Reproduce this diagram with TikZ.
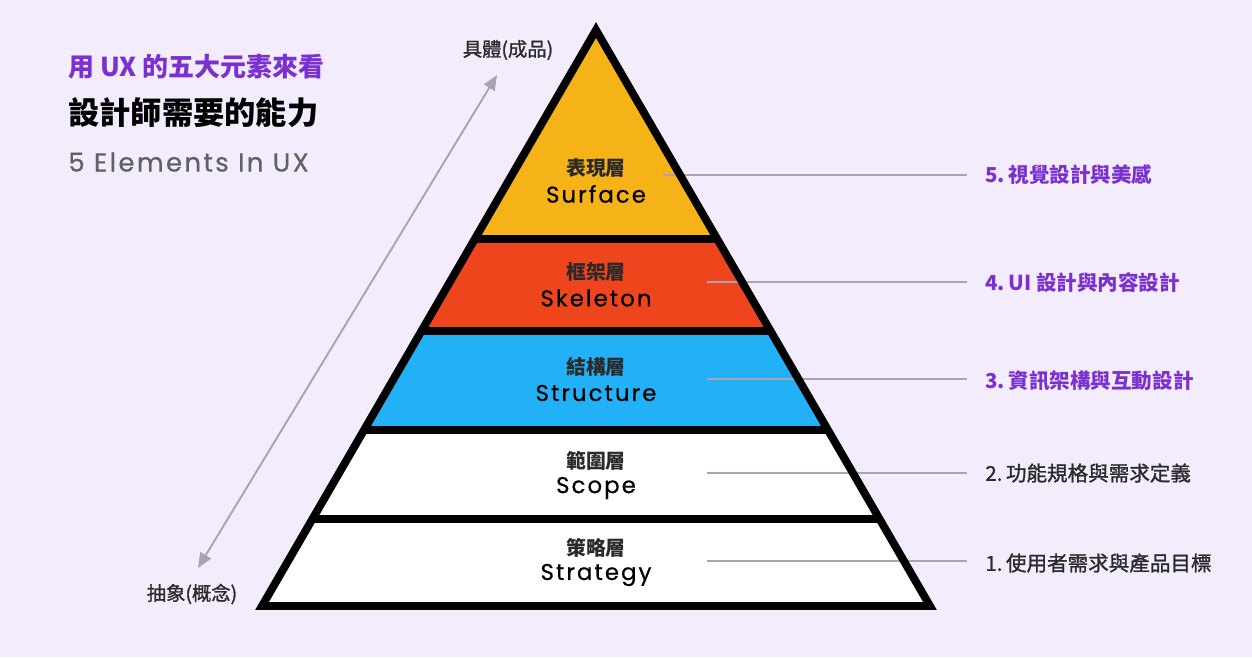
\documentclass[tikz,border=0pt]{standalone}
\usepackage{fontspec}
\setmainfont{Noto Sans CJK TC}
\newfontfamily\lat{Poppins}[LetterSpace=9, FakeBold=0.5]
\newfontfamily\cjkmid{Noto Sans CJK TC}[FakeBold=1.2]
\usepackage{tikz}
\usetikzlibrary{arrows.meta}

\definecolor{uxbg}{HTML}{F3ECFD}
\definecolor{uxpurple}{HTML}{7A31D0}
\definecolor{uxgold}{HTML}{F6B317}
\definecolor{uxred}{HTML}{EE451D}
\definecolor{uxblue}{HTML}{22B1F6}
\definecolor{uxgray}{HTML}{A9A4B0}
\definecolor{uxtext}{HTML}{2A2A2A}

\begin{document}
\begin{tikzpicture}[
  x=0.02cm, y=-0.02cm, >={Triangle[length=8.5pt,width=7pt]},
  tierzh/.style={font=\bfseries\fontsize{11.3}{13}\selectfont, text=uxtext, inner sep=0pt},
  tieren/.style={font=\lat\fontsize{13}{15}\selectfont, text=black, inner sep=0pt},
  goal/.style={anchor=west, inner sep=0pt, font=\cjkmid\fontsize{11.7}{14}\selectfont, text=uxtext},
  goalhi/.style={goal, font=\bfseries\fontsize{11.7}{14}\selectfont, text=uxpurple},
  pole/.style={font=\cjkmid\fontsize{11}{13}\selectfont, text=uxtext, inner sep=0pt},
  band/.style={line width=4.5pt, black},
  lead/.style={draw=uxgray, line width=1.1pt},
  arr/.style={<->, draw=uxgray, fill=uxgray, line width=1.1pt},
]
\fill[uxbg] (0,0) rectangle (1252,657);
\useasboundingbox (0,0) rectangle (1252,657);

% heading
\node[anchor=west, inner sep=0pt, text=uxpurple, font=\bfseries\fontsize{14.8}{17}\selectfont] (head) at (68,67) {用 UX 的五大元素來看};
\node[anchor=west, inner sep=0pt, text=black, font=\bfseries\fontsize{17.8}{21}\selectfont] (title) at (68,113) {設計師需要的能力};
\node[anchor=west, inner sep=0pt, text=black!62, font=\lat\fontsize{14.8}{17}\selectfont] (sub) at (68,162) {5 Elements In UX};

% pyramid
\coordinate (apex) at (596,30);
\coordinate (bl) at (262,606);
\coordinate (br) at (930,606);
\begin{scope}
  \clip (apex) -- (bl) -- (br) -- cycle;
  \fill[uxgold] (0,0) rectangle (1252,239);
  \fill[uxred] (0,239) rectangle (1252,331);
  \fill[uxblue] (0,331) rectangle (1252,430);
  \fill[white] (0,430) rectangle (1252,606);
  \foreach \y in {239,331,430,519}
    \draw[band] (0,\y) -- (1252,\y);
\end{scope}

\coordinate (lead5) at (663,175);
\coordinate (lead4) at (707,282);
\coordinate (lead3) at (707,379);
\coordinate (lead2) at (707,473);
\coordinate (lead1) at (707,561);

\node[goalhi] (goal5) at (985,175) {5.\hspace{2pt}視覺設計與美感};
\node[goalhi] (goal4) at (985,283) {4.\hspace{2pt}UI 設計與內容設計};
\node[goalhi] (goal3) at (985,381) {3.\hspace{2pt}資訊架構與互動設計};
\node[goal] (goal2) at (985,473) {2.\hspace{2pt}功能規格與需求定義};
\node[goal] (goal1) at (985,563) {1.\hspace{2pt}使用者需求與產品目標};

\foreach \i in {1,...,5}
  \draw[lead, shorten >=10pt] (lead\i) -- (lead\i -| goal\i.west);

\draw[band, line join=miter] (apex) -- (bl) -- (br) -- cycle;

% layer names
\node[tierzh] (surfzh) at (596,168) {表現層};
\node[tieren] (surfen) at (596,194) {Surface};
\node[tierzh] (skelzh) at (596,272) {框架層};
\node[tieren] (skelen) at (596,298) {Skeleton};
\node[tierzh] (struzh) at (596,367) {結構層};
\node[tieren] (struen) at (596,393) {Structure};
\node[tierzh] (scopzh) at (596,461) {範圍層};
\node[tieren] (scopen) at (596,488) {Scope};
\node[tierzh] (stratzh) at (596,548) {策略層};
\node[tieren] (straten) at (596,575) {Strategy};

% abstract <-> concrete
\node[pole] (concrete) at (508,50) {具體(成品)};
\node[pole] (abstract) at (192,594) {抽象(概念)};
\coordinate (tiptop) at (497,75);
\coordinate (tipbot) at (198,568);
\draw[arr] (tipbot) -- (tiptop);
\end{tikzpicture}
\end{document}
